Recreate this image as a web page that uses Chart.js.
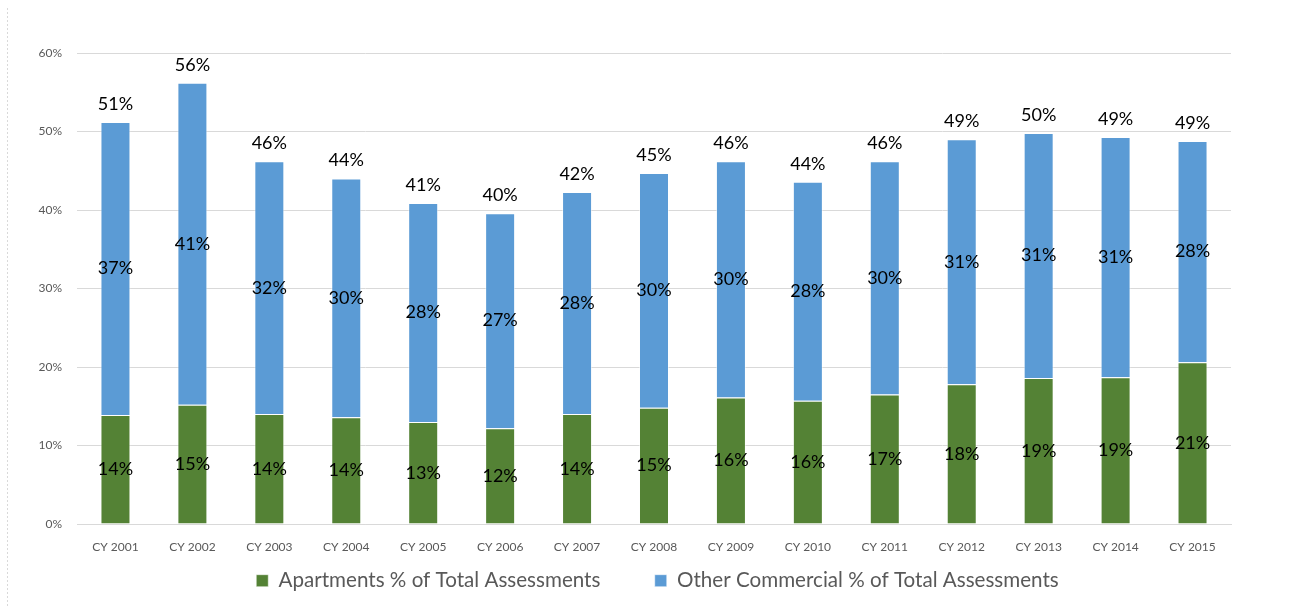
<!DOCTYPE html>
<html>
<head>
<meta charset="utf-8">
<script src="https://cdn.jsdelivr.net/npm/chart.js@4"></script>
<style>
  html, body { margin: 0; padding: 0; background: #fff; }
  #wrap { width: 1295px; height: 606px; position: relative; }
</style>
</head>
<body>
<div id="wrap"><canvas id="chart"></canvas></div>
<script>
const years = ['CY 2001','CY 2002','CY 2003','CY 2004','CY 2005','CY 2006','CY 2007','CY 2008','CY 2009','CY 2010','CY 2011','CY 2012','CY 2013','CY 2014','CY 2015']
const apartments = [13.9, 15.2, 14.0, 13.6, 13.0, 12.2, 14.0, 14.8, 16.1, 15.7, 16.5, 17.8, 18.6, 18.7, 20.6]
const otherCommercial = [37.3, 41.0, 32.2, 30.4, 27.9, 27.4, 28.3, 29.9, 30.1, 27.9, 29.7, 31.2, 31.2, 30.6, 28.2]
const yTicks = [0, 10, 20, 30, 40, 50, 60]

const GREEN = '#548235'
const BLUE = '#5b9bd5'
const FONT = 'Lato, "Open Sans", sans-serif'

// draws the value labels (segment centres + total above bar)
const labelPlugin = {
    id: 'labels',
    afterDatasetsDraw(chart) {
        const ctx = chart.ctx
        ctx.save()
        ctx.font = '18px ' + FONT
        ctx.fillStyle = '#000'
        ctx.textAlign = 'center'
        ctx.textBaseline = 'middle'
        chart.data.datasets.forEach((ds, i) => {
            const meta = chart.getDatasetMeta(i)
            meta.data.forEach((bar, j) => {
                const mid = (bar.y + bar.base) / 2
                ctx.fillText(Math.round(ds.data[j]) + '%', bar.x, mid)
            })
        })
        const top = chart.getDatasetMeta(1)
        top.data.forEach((bar, j) => {
            const total = apartments[j] + otherCommercial[j]
            ctx.fillText(Math.round(total) + '%', bar.x, bar.y - 18)
        })
        ctx.restore()
    }
}

// faint dotted frame edge on the left
const frameLine = {
    id: 'frame',
    beforeDraw(chart) {
        const ctx = chart.ctx
        ctx.save()
        ctx.strokeStyle = '#d9d9d9'
        ctx.setLineDash([2, 2])
        ctx.beginPath()
        ctx.moveTo(7.5, 8)
        ctx.lineTo(7.5, 606)
        ctx.stroke()
        ctx.restore()
    }
}

new Chart(document.querySelector('#chart').getContext('2d'), {
    type: 'bar',
    data: {
        labels: years,
        datasets: [{
            label: 'Apartments % of Total Assessments',
            data: apartments,
            backgroundColor: GREEN,
            borderColor: 'rgba(255,255,255,0.5)',
            borderWidth: 1,
            barPercentage: 0.78,
            categoryPercentage: 0.5
        }, {
            label: 'Other Commercial % of Total Assessments',
            data: otherCommercial,
            backgroundColor: BLUE,
            borderColor: 'rgba(255,255,255,0.5)',
            borderWidth: 1,
            barPercentage: 0.78,
            categoryPercentage: 0.5
        }]
    },
    options: {
        responsive: true,
        maintainAspectRatio: false,
        animation: false,
        layout: { padding: { left: 20, right: 0, top: 53, bottom: 5 } },
        plugins: {
            legend: {
                position: 'bottom',
                labels: {
                    font: { family: FONT, size: 20.6 },
                    color: '#595959',
                    boxWidth: 12,
                    boxHeight: 12,
                    padding: 8,
                    generateLabels(chart) {
                        const items = Chart.defaults.plugins.legend.labels.generateLabels(chart)
                        // wider gap between the two entries
                        items[0].text += '\u2003\u2003\u2003'
                        return items
                    }
                }
            },
            tooltip: { enabled: false }
        },
        scales: {
            x: {
                stacked: true,
                grid: { display: false },
                border: { color: '#d9d9d9' },
                ticks: { font: { family: FONT, size: 12 }, color: '#595959', padding: 8 }
            },
            y: {
                stacked: true,
                min: 0,
                max: 60,
                afterFit(scale) { scale.width = 57 },
                afterBuildTicks(scale) { scale.ticks = yTicks.map(v => ({ value: v })) },
                grid: { color: '#d9d9d9', drawTicks: false },
                border: { display: false },
                ticks: {
                    font: { family: FONT, size: 12 },
                    color: '#595959',
                    padding: 15,
                    callback: v => v + '%'
                }
            },
            // empty right-hand margin so the legend centres on the whole page
            spacer: {
                type: 'linear',
                position: 'right',
                afterFit(scale) { scale.width = 64 },
                grid: { display: false },
                border: { display: false },
                ticks: { display: false }
            }
        }
    },
    plugins: [labelPlugin, frameLine]
})
</script>
</body>
</html>
